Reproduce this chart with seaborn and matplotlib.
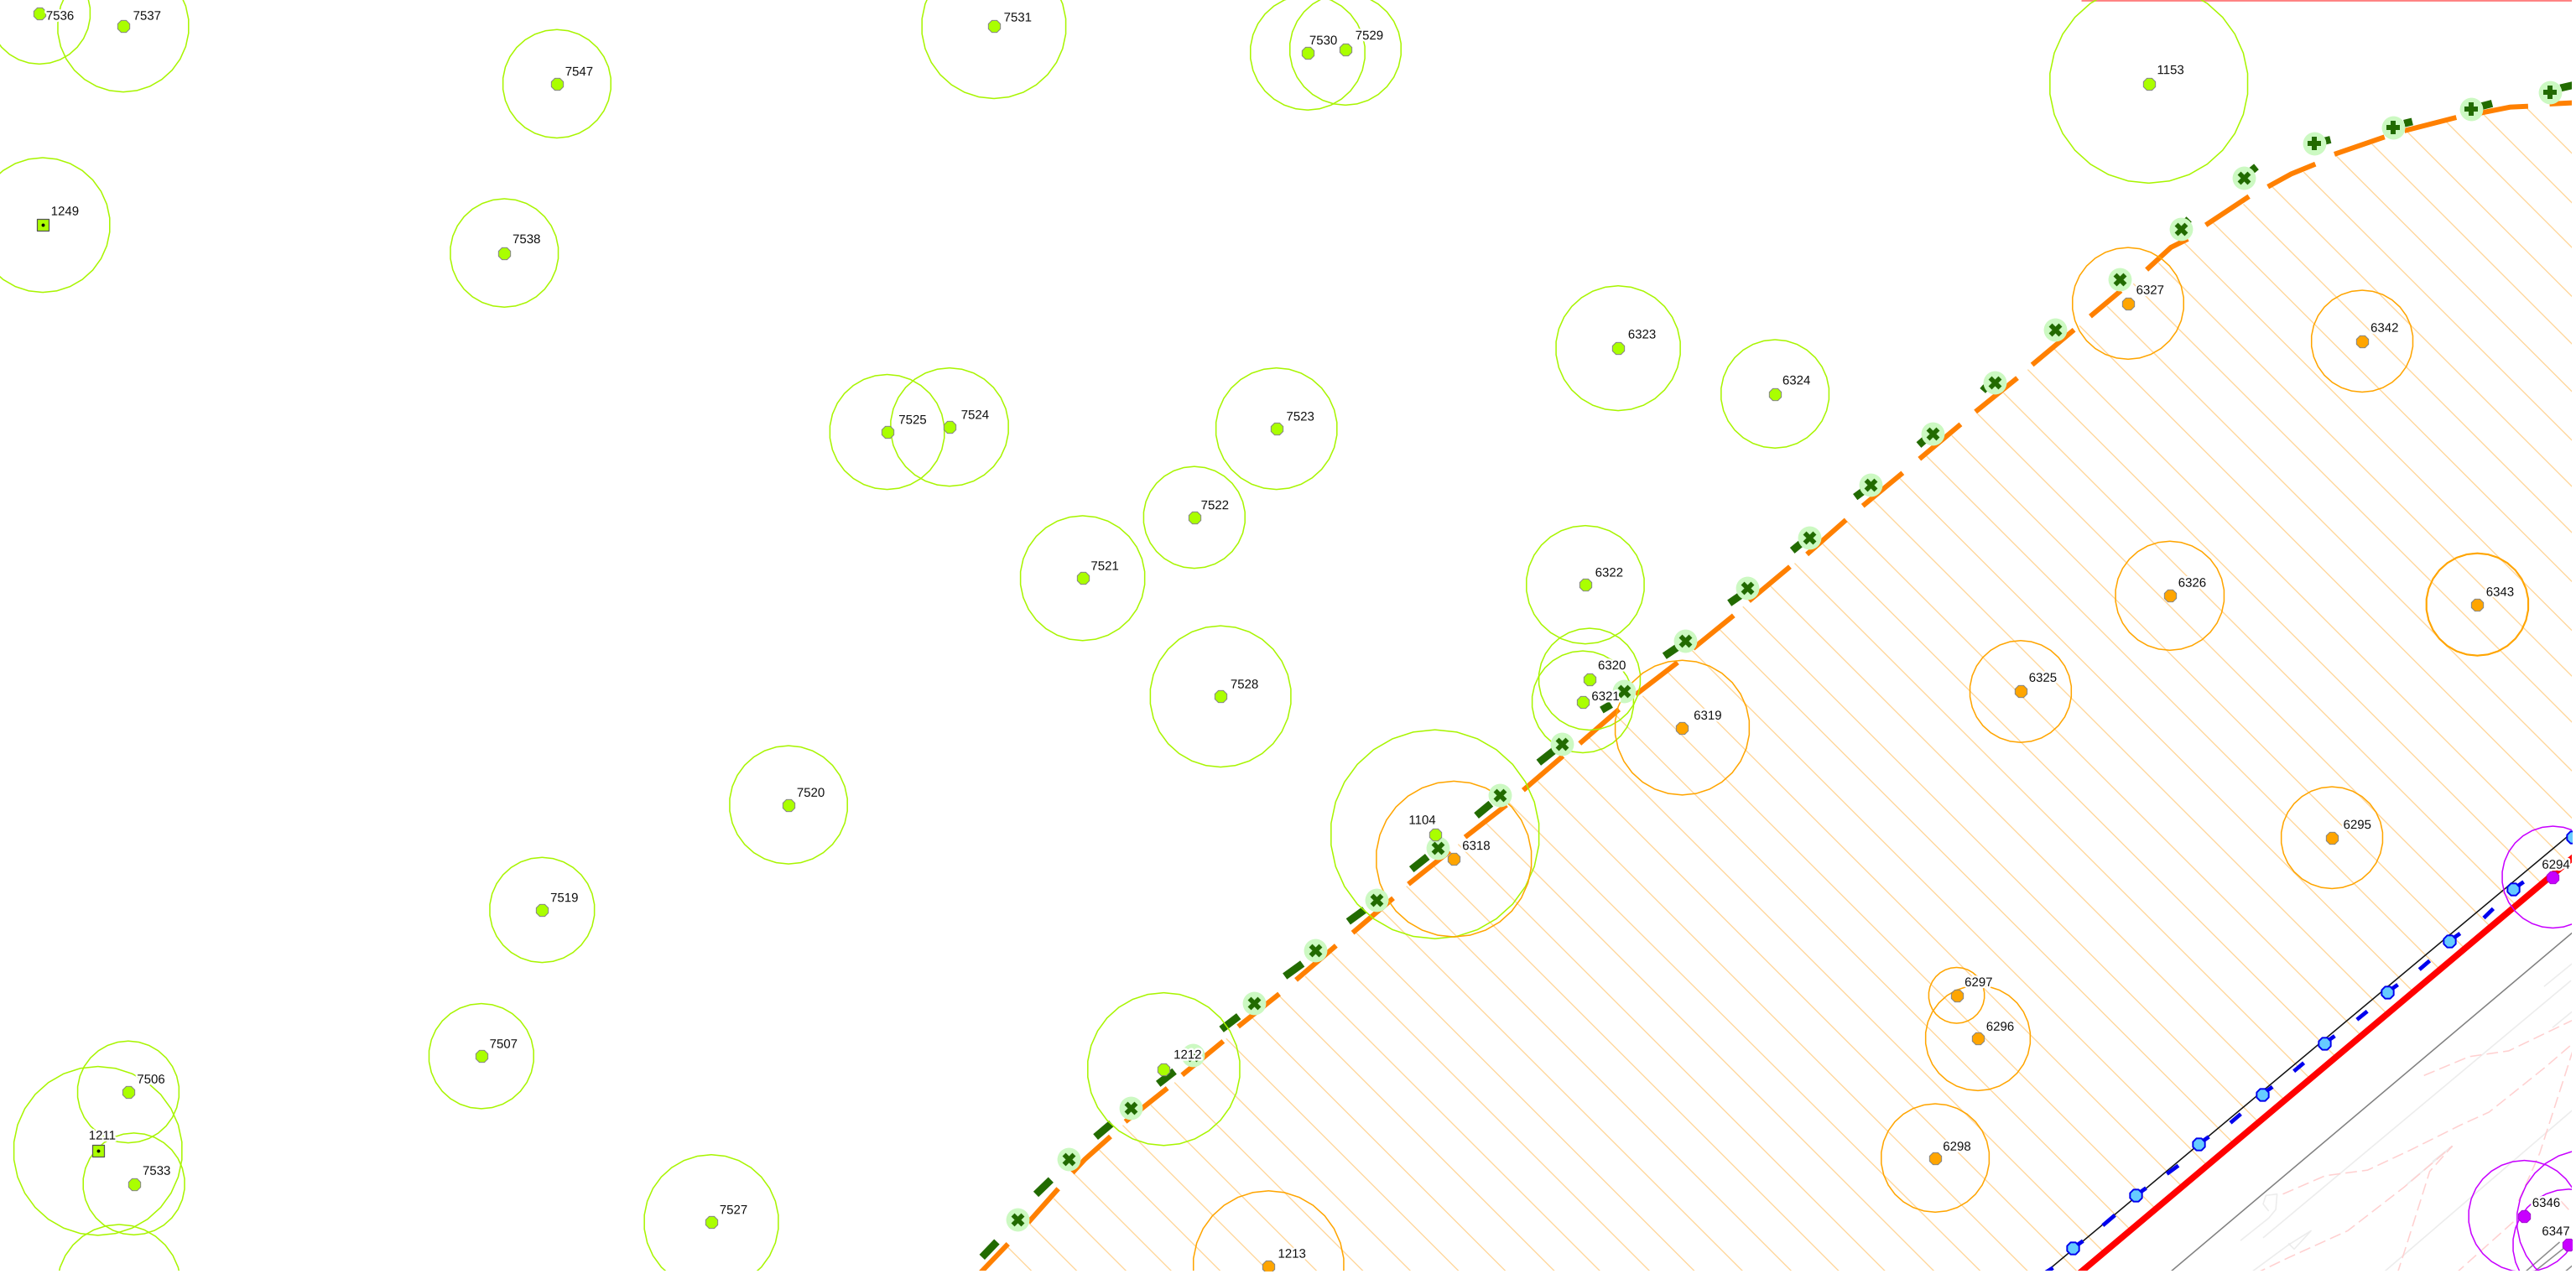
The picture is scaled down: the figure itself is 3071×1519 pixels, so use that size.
import pandas as pd
import matplotlib
matplotlib.use('Agg')
import matplotlib.pyplot as plt
import matplotlib.patheffects as pe
from matplotlib.patches import CirclePolygon
import seaborn as sns

# all values in map units (1 unit = 1.9585 px)
green_ids = ['7536', '7537', '7547', '7531', '7530', '7529', '1153', '7538', '7525', '7524',
             '7523', '7522', '7521', '7528', '6323', '6324', '6322', '6320', '6321', '1104',
             '7520', '7519', '7507', '7506', '7533', '7527', '1212']
green_x = [24, 75, 339, 605, 796, 819, 1308, 307, 540, 578,
           777, 727, 659, 743, 985, 1080.5, 965, 967.6, 963.5, 873.5,
           480, 330, 293, 78.1, 81.5, 433, 708.4]
green_y = [8, 16, 51, 16, 32, 30, 51, 154, 263, 260,
           261, 315, 352, 424, 212, 239.8, 356, 413.5, 427.3, 507.9,
           490, 554, 643, 664.8, 720.8, 744, 650.9]
green_r = [31, 40, 33, 44, 35, 34, 60.5, 33, 35, 36,
           37, 31, 38, 43, 38, 33, 36, 31, 31, 63.6,
           36, 32, 32, 31, 31, 41, 46.5]
green_lx = [28, 81, 344, 611, 797, 825, 1313, 312, 547, 585,
            783, 731, 664, 749, 991, 1085, 971, 972.7, 968.8, 857.5,
            485, 335, 298, 83.4, 86.8, 438, 714.4]
green_ly = [10, 10, 44, 11, 25, 22, 43, 146, 256, 253,
            254, 308, 345, 417, 204, 232, 349, 405.5, 424.3, 499.7,
            483, 547, 636, 657.5, 713.2, 737, 642.5]

square_ids = ['1249', '1211']
square_x = [26, 59.6]
square_y = [137, 700.7]
square_r = [41, 51.4]
square_lx = [31, 54]
square_ly = [129, 691.7]

orange_ids = ['6327', '6342', '6326', '6343', '6325', '6319', '6295', '6318', '6297', '6296', '6298', '1213']
orange_x = [1295.4, 1437.9, 1320.8, 1508, 1230, 1024, 1419.5, 885, 1191, 1204, 1178, 772.2]
orange_y = [184.7, 207.7, 362.7, 368, 421, 443, 510, 523, 606, 632, 705, 771]
orange_r = [34, 31, 33.2, 31, 31, 41, 31, 47.4, 17, 32, 33, 46]
orange_lx = [1300.3, 1443, 1325.9, 1513.3, 1235, 1031, 1426.4, 890.1, 1195.9, 1209, 1182.7, 777.9]
orange_ly = [177, 200, 355.2, 360.8, 413, 436, 502.5, 515.3, 598.4, 625.4, 698.4, 763.7]

purple_ids = ['6294', '6346', '6347']
purple_x = [1554, 1536.6, 1563.6]
purple_y = [534, 740.5, 758]
purple_r = [31, 34, 34]
purple_lx = [1547.3, 1541.4, 1547.3]
purple_ly = [526.8, 732.7, 750]

# rings whose centre lies just off the sheet
green_extra = [(72.5, 783.3, 37.8)]
purple_extra = [(1575, 743, 43)]

cross_x_a = [619.2, 650.5, 688.2, 725.9, 763.6, 800.8, 837.9, 875.3, 913, 950.6, 988.3, 1026,
             1063.8, 1101.2, 1138.7, 1176.4, 1214, 1251.2, 1290.1, 1327.4, 1365.9]
cross_y_a = [742.4, 705.5, 674.7, 642.5, 610.9, 578.6, 548, 516, 484.2, 453, 420.7, 390.1,
             358.2, 327.1, 295.3, 264.1, 232.6, 200.8, 170.2, 139.2, 108.1]
cross_x_b = [1408.5, 1456.6, 1504, 1552]
cross_y_b = [87.1, 77.4, 66.4, 56.2]

# dark green dashes (x0, y0, x1, y1)
dash_x0 = [597.8, 630.6, 666.9, 705, 743.5, 782.1, 820.7, 859.2, 898.7, 936.6, 974.9, 1013.2, 1052.7,
           1091, 1129.3, 1168, 1206.9, 1331, 1370.5, 1414.5, 1463.5, 1510.5, 1558.6]
dash_y0 = [765.4, 727.1, 692.2, 659.9, 626.7, 594.4, 561.1, 529.3, 496.6, 464.3, 432.3, 399.4, 367.2,
           335.2, 302.6, 270.9, 237.9, 135, 104, 86, 75.2, 64.7, 53.6]
dash_x1 = [606.8, 639.7, 676.6, 714.9, 754, 792.8, 830.6, 868.9, 907.5, 946, 980.7, 1021.2, 1059.5,
           1096.1, 1133.9, 1171.9, 1209, 1332.5, 1373.5, 1418.6, 1468.4, 1517, 1566]
dash_y1 = [756, 718.3, 684, 652.2, 618.7, 586.7, 553.9, 521.6, 489.3, 456.9, 428.9, 394, 362.5,
           331, 299.2, 267.5, 235.5, 133.5, 101.5, 85, 74, 63, 51.9]

# thick orange boundary pieces
orange_route = [
    [(590, 782), (613.6, 757.3)],
    [(626, 744.2), (644.2, 723.7)],
    [(652.8, 714), (660.4, 705.8), (676, 691.9)],
    [(685, 682.9), (710.6, 662.5)],
    [(719.6, 654.5), (744.6, 633.9)],
    [(753.7, 625), (778.7, 605.1)],
    [(788.9, 596.6), (813.3, 575.7)],
    [(823.4, 567.9), (848.1, 546.8)],
    [(857.3, 538.3), (882.5, 518.2)],
    [(891.8, 509.7), (917, 490.1)],
    [(927.2, 481.1), (951.4, 460.3)],
    [(961.6, 452.7), (985.5, 431.9)],
    [(995.7, 422.9), (1021.2, 403.3)],
    [(1030.6, 394.8), (1055.3, 374.7)],
    [(1064.6, 365.9), (1089.6, 345)],
    [(1099.9, 337.5), (1123.7, 316.5)],
    [(1133.9, 308), (1158.2, 287.9)],
    [(1168.4, 279.4), (1193.5, 258.3)],
    [(1202.5, 250.7), (1228, 230.1)],
    [(1237, 222.1), (1262.5, 200.8)],
    [(1272.4, 192.6), (1291, 177)],
    [(1306.7, 164.2), (1321.5, 150.6), (1331.8, 145.5)],
    [(1342.7, 137), (1369, 119.6)],
    [(1380.5, 113.7), (1394.7, 105.9), (1409.4, 99.9)],
    [(1421, 93.9), (1451.5, 83.4)],
    [(1463.6, 79.6), (1495.2, 71.5)],
    [(1509.4, 68.9), (1528, 65.2), (1538.9, 64.7)],
    [(1552, 63.3), (1570, 62.4)],
]

# thin hatch lines, boundary to red line
hatch_x0 = [613.6, 626.4, 641.4, 653.6, 668.9, 683.4, 700.4, 714.9, 731.9, 746.4, 762.5, 778.7, 794.5, 810.2,
            825.5, 840.8, 856.1, 873.1, 887.6, 904.6, 918.2, 936.1, 952.3, 967.6, 983.8, 999.9, 1015.2,
            1029.7, 1046.4, 1060.9, 1077.4, 1092.4, 1109.4, 1124.2, 1140.4, 1156.5, 1172.7, 1188, 1203.7,
            1219.5, 1234.3, 1250, 1265.8, 1282.6, 1298.6, 1313.9, 1329.8, 1346.8, 1365.6, 1382.6, 1402.2,
            1421.7, 1443.9, 1465.1, 1489, 1511.9, 1538.3]
hatch_y0 = [759.5, 744.7, 729.7, 714.4, 699.9, 685.1, 672.7, 659, 647.1, 632.3, 619.9, 606.3, 594.4, 579.9,
            567.9, 553.9, 539.5, 527.6, 514, 501.2, 488.4, 475.7, 462, 449.3, 435.7, 423.7, 409.3,
            395.7, 382.9, 369.3, 356.5, 342.9, 331, 317.4, 304.6, 291.3, 277.7, 265.1, 251.9,
            239.1, 225, 212, 198.3, 186.4, 172.7, 160, 148.1, 135.3, 124.3, 113.2, 104.7,
            94.5, 87.7, 80, 74.1, 69.8, 66.1]
hatch_x1 = [920.5, 935.4, 951.7, 966.6, 982.8, 998.7, 1014.6, 1029.9, 1045.6, 1061.5, 1076.9, 1093.1, 1108.1, 1124.5,
            1139.3, 1155.2, 1171.3, 1187, 1202.2, 1218.4, 1233.8, 1249.3, 1265.5, 1280.7, 1296.9, 1312.1, 1328.3,
            1343.5, 1359.5, 1374.7, 1390.6, 1406.1, 1421.8, 1437.2, 1452.9, 1468.9, 1485, 1500.2, 1515.9,
            1531.4, 1547.1, 1562.6, 1578.6, 1600, 1600, 1600, 1600, 1600, 1600, 1600, 1600,
            1600, 1600, 1600, 1600, 1600, 1600]
hatch_y1 = [1066.4, 1053.7, 1040, 1027.4, 1013.8, 1000.4, 986.9, 974, 960.8, 947.4, 934.3, 920.7, 908, 894.2,
            881.7, 868.3, 854.7, 841.5, 828.6, 815, 802, 788.9, 775.2, 762.4, 748.8, 735.9, 722.4,
            709.5, 696, 683.1, 669.7, 656.6, 643.4, 630.4, 617.1, 603.7, 590, 577.3, 564.1,
            551, 537.8, 524.6, 511.1, 503.8, 474.1, 446.1, 418.3, 388.5, 358.7, 330.6, 302.5,
            272.8, 243.8, 214.9, 185.1, 157.9, 127.8]

red_line = [(1265.4, 775.5), (1568.2, 520.4)]
black_line = [(1244, 775.6), (1568, 505)]
grey_line = [(1319.7, 775.6), (1568, 566)]
top_line = [(1267, 0), (1566, 0)]

blue_x = [1261.6, 1300, 1338.2, 1376.9, 1414.8, 1453.2, 1491.1, 1529.8, 1566]
blue_y = [760, 727.8, 696.6, 666.2, 635.2, 604, 572.8, 541.4, 509.8]
blue_tail_x = [1268, 1306.4, 1344.6, 1383.3, 1421.2, 1459.6, 1497.5, 1536.2, 1572]
blue_tail_y = [755.5, 723.3, 692.1, 661.7, 630.7, 599.5, 568.3, 536.9, 505.3]
blue_dash_x0 = [1243.9, 1280, 1319, 1357.7, 1396.3, 1434.7, 1472.7, 1511.9]
blue_dash_y0 = [775.5, 746.1, 714.7, 683.6, 652.2, 620.8, 590.3, 558.9]
blue_dash_x1 = [1249.7, 1287.4, 1326, 1364, 1402.4, 1441, 1479, 1517.7]
blue_dash_y1 = [771.9, 739.8, 709.6, 678.2, 647.1, 615.7, 584.9, 553.2]

pink_lines = [
    [(1475.5, 654.8), (1503, 643.3), (1527.1, 639.8), (1546, 630.7), (1567.5, 620.4)],
    [(1389.6, 727), (1415.4, 715.8), (1441.2, 712.4), (1467, 700.3), (1497.9, 684.9), (1515.1, 677.1),
     (1532.3, 663.4), (1549.5, 649.6), (1567.5, 634.1)],
    [(1372.4, 775.6), (1393, 765.7), (1429.1, 749.3), (1463.5, 722.7), (1492.7, 697.8)],
    [(1459.2, 775.6), (1465.2, 757.1), (1479, 713.2), (1492.7, 697.8)],
    [(1533.1, 731.3), (1546, 702), (1563.2, 648.8), (1567.5, 635)],
    [(1494.5, 775.6), (1530.6, 743.3)],
    [(1558.9, 731.3), (1567.5, 740.7)],
]
pale_lines = [
    [(1377.6, 753.6), (1565, 597)],
    [(1449.8, 775.6), (1567.5, 674.5)],
    [(1363.8, 755.3), (1381, 741.6), (1385.3, 736.4), (1386.1, 727), (1379.3, 727.8), (1377.6, 733), (1381, 737.3)],
    [(1369, 775.6), (1393, 757.9), (1406.8, 749.3), (1396.5, 760.5), (1393, 757)],
    [(1465.2, 721), (1492.7, 697.8), (1480.7, 707.2)],
    [(1548.6, 600.6), (1567.5, 585.2)],
    [(1553.8, 625.6), (1567.5, 614.4)],
]
darkgrey_lines = [
    [(1535.7, 775.6), (1558.1, 756.2)],
    [(1540.9, 775.6), (1567.5, 754.5)],
    [(1559.8, 775.6), (1567.5, 769.1)],
]

sns.set_theme(style='white')
plt.rcParams['font.family'] = ['Liberation Sans', 'DejaVu Sans']


def long_table(pieces):
    rows = []
    for i, piece in enumerate(pieces):
        for order, (x, y) in enumerate(piece):
            rows.append({'piece': i, 'order': order, 'x': x, 'y': y})
    return pd.DataFrame(rows)


def draw_lines(ax, pieces, color, lw, z, **kw):
    sns.lineplot(data=long_table(pieces), x='x', y='y', units='piece', estimator=None, sort=False,
                 color=color, linewidth=lw, zorder=z, legend=False, ax=ax,
                 solid_capstyle='butt', **kw)


def draw_points(ax, xs, ys, color, size, marker='o', edge='#808080', ew=0.7, z=8):
    df = pd.DataFrame({'x': xs, 'y': ys})
    sns.scatterplot(data=df, x='x', y='y', color=color, s=size, marker=marker,
                    edgecolor=edge, linewidth=ew, zorder=z, legend=False, ax=ax)


def draw_rings(ax, xs, ys, rs, color, lw=1.1):
    for x, y, r in zip(xs, ys, rs):
        ax.add_patch(CirclePolygon((x, y), r, resolution=30, fill=False, edgecolor=color,
                                   linewidth=lw, zorder=6))


def draw_labels(ax, ids, xs, ys):
    for name, x, y in zip(ids, xs, ys):
        ax.text(x, y, name, fontsize=10.8, color='#111111', ha='left', va='center', zorder=10, clip_on=True,
                path_effects=[pe.withStroke(linewidth=3.5, foreground='white')])


fig = plt.figure(figsize=(30.71, 15.19), dpi=100, facecolor='white')
ax = fig.add_axes([0, 4 / 1519, 3066 / 3071, 1515 / 1519])

draw_lines(ax, pale_lines, '#ececec', 1.1, 1)
draw_lines(ax, pink_lines, '#ffd0d0', 1.1, 1.5, dashes=(9, 4))
draw_lines(ax, list(zip(zip(hatch_x0, hatch_y0), zip(hatch_x1, hatch_y1))), '#ffd699', 0.95, 2)
draw_lines(ax, darkgrey_lines, '#8c8c8c', 1.1, 2)
draw_lines(ax, [grey_line], '#808080', 1.1, 3)
draw_lines(ax, [black_line], '#111111', 1.1, 3)
draw_lines(ax, [red_line], '#ff0000', 5.4, 4)
draw_lines(ax, [top_line], '#ff8080', 2, 4)
draw_lines(ax, list(zip(zip(blue_dash_x0, blue_dash_y0), zip(blue_dash_x1, blue_dash_y1))), '#0000ee', 3.4, 5)
draw_lines(ax, list(zip(zip(blue_x, blue_y), zip(blue_tail_x, blue_tail_y))), '#0000ee', 3.4, 5)
draw_lines(ax, orange_route, '#ff8000', 4.3, 5)
draw_lines(ax, list(zip(zip(dash_x0, dash_y0), zip(dash_x1, dash_y1))), '#226b00', 6.4, 5)

draw_rings(ax, green_x + square_x + [r[0] for r in green_extra],
           green_y + square_y + [r[1] for r in green_extra],
           green_r + square_r + [r[2] for r in green_extra], '#a8f500')
draw_rings(ax, orange_x, orange_y, orange_r, '#ffa500')
draw_rings(ax, [orange_x[3]], [orange_y[3]], [31.3], '#ffa500')
draw_rings(ax, purple_x + [r[0] for r in purple_extra], purple_y + [r[1] for r in purple_extra],
           purple_r + [r[2] for r in purple_extra], '#c800ff')

# pale halo first, then the crosses
draw_points(ax, cross_x_a + cross_x_b, cross_y_a + cross_y_b, '#ccf9c2', 400, 'o', '#ccf9c2', 0, 7)
draw_points(ax, cross_x_a, cross_y_a, '#226b00', 130, 'X', '#226b00', 0, 7.5)
draw_points(ax, cross_x_b, cross_y_b, '#226b00', 130, 'P', '#226b00', 0, 7.5)

draw_points(ax, green_x, green_y, '#aaff00', 125, '8')
draw_points(ax, orange_x, orange_y, '#ffa500', 125, '8')
draw_points(ax, purple_x, purple_y, '#c800ff', 125, '8', '#a000d0')
draw_points(ax, blue_x, blue_y, '#66ccff', 125, '8', '#0000ee', 1.4)
draw_points(ax, square_x, square_y, '#aaff00', 110, 's', '#555555', 0.9)
draw_points(ax, square_x, square_y, '#000000', 8, 'o', '#000000', 0, 8.5)

draw_labels(ax, green_ids, green_lx, green_ly)
draw_labels(ax, square_ids, square_lx, square_ly)
draw_labels(ax, orange_ids, orange_lx, orange_ly)
draw_labels(ax, purple_ids, purple_lx, purple_ly)

ax.set_xlim(0, 1565.5)
ax.set_ylim(773.6, 0)
ax.set_axis_off()

fig.savefig('out.png', dpi=100, facecolor='white')
